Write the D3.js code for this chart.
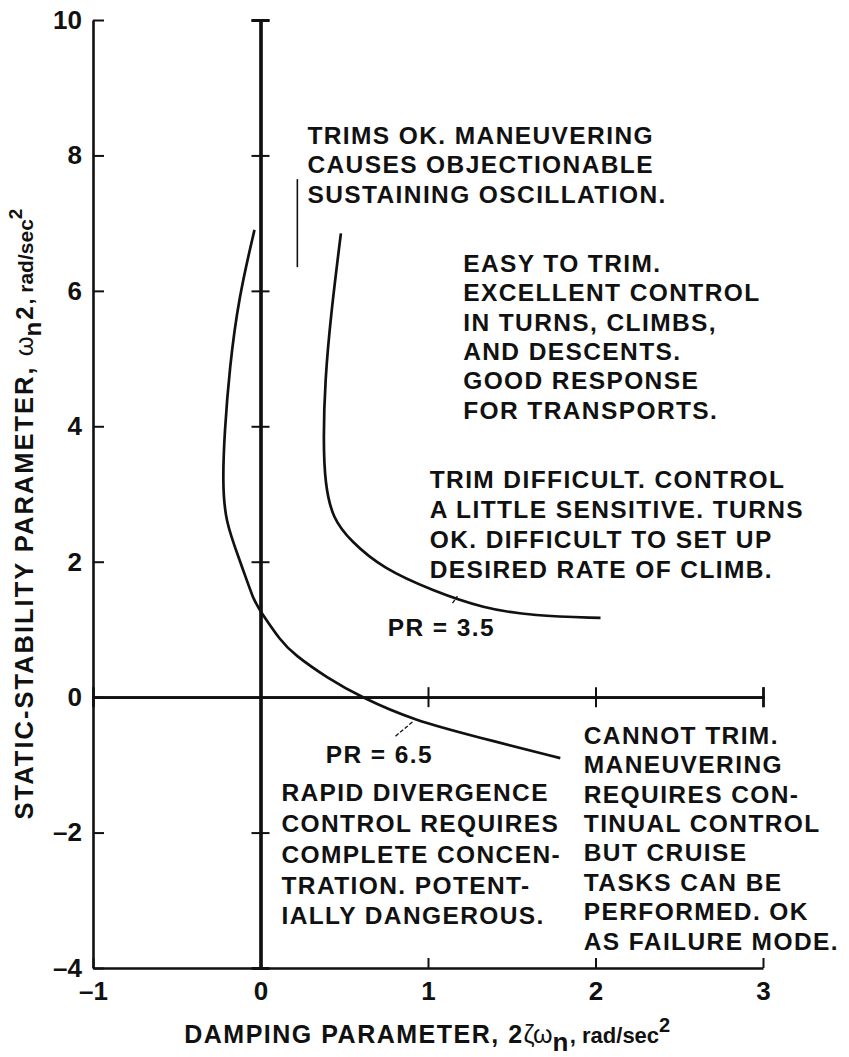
<!DOCTYPE html>
<html>
<head>
<meta charset="utf-8">
<script src="https://cdn.jsdelivr.net/npm/d3@7"></script>
<style>
  body { margin: 0; background: #ffffff; }
  svg { display: block; }
  text { font-family: "Liberation Sans", Arial, sans-serif; font-weight: bold; fill: #111111; }
</style>
</head>
<body>
<div id="chart"></div>
<script>

// axis values
let xTicks = [-1, 0, 1, 2, 3];
let yTicks = [-4, -2, 0, 2, 4, 6, 8, 10];

// curves, [damping, static stability]
let pr65 = [
  [-0.036, 6.9], [-0.13, 5.9], [-0.185, 4.86], [-0.215, 3.9], [-0.226, 3.2],
  [-0.212, 2.6], [-0.12, 2.0], [-0.04, 1.42], [0.0, 1.27], [0.12, 0.83],
  [0.2, 0.63], [0.4, 0.28], [0.6, 0.0], [0.91, -0.34], [1.31, -0.6], [1.79, -0.9]
];

let pr35 = [
  [0.48, 6.85], [0.42, 5.65], [0.385, 4.67], [0.375, 3.8], [0.385, 3.15],
  [0.43, 2.64], [0.54, 2.3], [0.73, 1.9], [1.03, 1.57], [1.33, 1.31],
  [1.63, 1.2], [2.03, 1.17]
];

// region notes
let noteText = [
  ["TRIMS OK. MANEUVERING", "CAUSES OBJECTIONABLE", "SUSTAINING OSCILLATION."],
  ["EASY TO TRIM.", "EXCELLENT CONTROL", "IN TURNS, CLIMBS,", "AND DESCENTS.", "GOOD RESPONSE", "FOR TRANSPORTS."],
  ["TRIM DIFFICULT. CONTROL", "A LITTLE SENSITIVE. TURNS", "OK. DIFFICULT TO SET UP", "DESIRED RATE OF CLIMB."],
  ["PR = 3.5"],
  ["PR = 6.5"],
  ["RAPID DIVERGENCE", "CONTROL REQUIRES", "COMPLETE CONCEN-", "TRATION. POTENT-", "IALLY DANGEROUS."],
  ["CANNOT TRIM.", "MANEUVERING", "REQUIRES CON-", "TINUAL CONTROL", "BUT CRUISE", "TASKS CAN BE", "PERFORMED. OK", "AS FAILURE MODE."]
];
// where each note starts (first baseline), in data units
let noteAt = [
  [0.28, 8.17], [1.21, 6.28], [1.01, 3.09], [0.76, 0.9],
  [0.39, -0.975], [0.125, -1.54], [1.93, -0.69]
];

// short leader marks
let leaders = [
  [[0.22, 7.65], [0.22, 6.35]],
  [[0.806, -0.576], [0.913, -0.355]],
  [[1.146, 1.39], [1.176, 1.49]]
];

function drawChart() {

  let width = 849;
  let height = 1057;

  let svg = d3.select("#chart").append("svg")
  .attr("width", width)
  .attr("height", height);

  svg.append("rect")
  .attr("width", "100%")
  .attr("height", "100%")
  .attr("fill", "#ffffff");

  let x = d3.scaleLinear().domain([-1, 3]).range([93, 763]);
  let y = d3.scaleLinear().domain([-4, 10]).range([968, 20]);

  let fmt = d => d < 0 ? "\u2013" + Math.abs(d) : String(d);

  // frame, left and bottom
  let left = svg.append("g")
  .attr("transform", "translate(" + x(-1) + ",0)")
  .call(d3.axisLeft(y).tickValues(yTicks).tickSizeInner(-11).tickSizeOuter(0).tickPadding(11).tickFormat(fmt));

  let bottom = svg.append("g")
  .attr("transform", "translate(0," + y(-4) + ")")
  .call(d3.axisBottom(x).tickValues(xTicks).tickSizeInner(-10).tickSizeOuter(0).tickPadding(14).tickFormat(fmt));

  // zero lines with crossing ticks
  let zeroH = [
    d3.axisBottom(x).tickValues([1, 2, 3]).tickSize(10),
    d3.axisTop(x).tickValues([1, 2, 3]).tickSize(10)
  ].map(function(a) {
    return svg.append("g")
    .attr("transform", "translate(0," + y(0) + ")")
    .call(a.tickFormat(""));
  });

  let zeroV = [
    d3.axisLeft(y).tickValues([-2, 2, 4, 6, 8, 10]).tickSize(9),
    d3.axisRight(y).tickValues([-2, 2, 4, 6, 8, 10]).tickSize(9)
  ].map(function(a) {
    return svg.append("g")
    .attr("transform", "translate(" + x(0) + ",0)")
    .call(a.tickFormat(""));
  });

  [left, bottom].concat(zeroH, zeroV).forEach(function(g) {
    g.attr("font-family", null).attr("font-size", null);
    g.select(".domain").attr("stroke", "#111").attr("stroke-width", 2.6);
    g.selectAll(".tick line").attr("stroke", "#111").attr("stroke-width", 2);
    g.selectAll(".tick text").attr("fill", "#111").attr("font-size", 26);
  });
  zeroV.forEach(g => g.select(".domain").attr("stroke-width", 3.2));

  // curves
  let line = d3.line()
  .x(d => x(d[0]))
  .y(d => y(d[1]))
  .curve(d3.curveBasis);

  [pr65, pr35].forEach(function(pts) {
    svg.append("path")
    .attr("d", line(pts))
    .attr("fill", "none")
    .attr("stroke", "#111")
    .attr("stroke-width", 2.7);
  });

  leaders.forEach(function(l, i) {
    svg.append("line")
    .attr("x1", x(l[0][0])).attr("y1", y(l[0][1]))
    .attr("x2", x(l[1][0])).attr("y2", y(l[1][1]))
    .attr("stroke", "#111")
    .attr("stroke-width", i == 0 ? 1.6 : 1.3)
    .attr("stroke-dasharray", i == 0 ? null : "4,2");
  });

  // notes
  let gaps = [29.5, 29.4, 30, 0, 0, 30.7, 29.4];
  noteText.forEach(function(lines, i) {
    let t = svg.append("text")
    .attr("x", x(noteAt[i][0]))
    .attr("y", y(noteAt[i][1]))
    .attr("font-size", 24.5)
    .attr("letter-spacing", 1.4);
    lines.forEach(function(s, j) {
      t.append("tspan")
      .attr("x", x(noteAt[i][0]))
      .attr("dy", j == 0 ? 0 : gaps[i])
      .text(s);
    });
  });

  // x axis title
  let xt = svg.append("text")
  .attr("x", 428)
  .attr("y", 1043)
  .attr("text-anchor", "middle")
  .attr("font-size", 25)
  .attr("letter-spacing", 1.5);
  xt.append("tspan").text("DAMPING PARAMETER, 2");
  xt.append("tspan").attr("font-weight", "normal").attr("letter-spacing", 0).text("\u03b6\u03c9");
  xt.append("tspan").attr("dy", 8).attr("font-size", 26).text("n");
  xt.append("tspan").attr("dy", -8).attr("font-size", 22).attr("letter-spacing", 0).text(", rad/sec");
  xt.append("tspan").attr("dy", -11).attr("font-size", 20).text("2");

  // y axis title
  let yt = svg.append("text")
  .attr("transform", "translate(33,513) rotate(-90)")
  .attr("text-anchor", "middle")
  .attr("font-size", 25.5)
  .attr("letter-spacing", 2);
  yt.append("tspan").text("STATIC-STABILITY PARAMETER, ");
  yt.append("tspan").attr("font-weight", "normal").attr("letter-spacing", 0).text("\u03c9");
  yt.append("tspan").attr("dy", 8).attr("font-size", 24).text("n");
  yt.append("tspan").attr("dy", -8).attr("font-size", 24).text("2");
  yt.append("tspan").attr("font-size", 21).attr("letter-spacing", 0).text(", rad/sec");
  yt.append("tspan").attr("dy", -11).attr("font-size", 19).text("2");

}

drawChart();
</script>
</body>
</html>
